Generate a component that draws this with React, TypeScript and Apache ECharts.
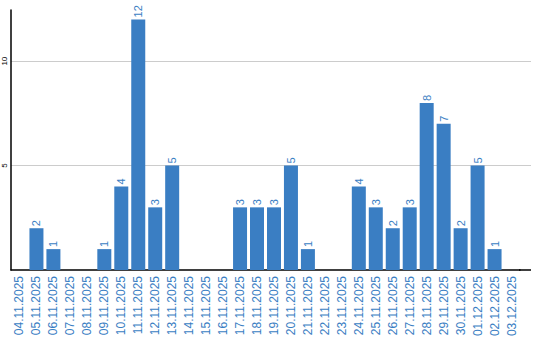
import React, { useEffect, useRef } from "react";
import * as echarts from "echarts";

const categories = [
  "04.11.2025", "05.11.2025", "06.11.2025", "07.11.2025", "08.11.2025",
  "09.11.2025", "10.11.2025", "11.11.2025", "12.11.2025", "13.11.2025",
  "14.11.2025", "15.11.2025", "16.11.2025", "17.11.2025", "18.11.2025",
  "19.11.2025", "20.11.2025", "21.11.2025", "22.11.2025", "23.11.2025",
  "24.11.2025", "25.11.2025", "26.11.2025", "27.11.2025", "28.11.2025",
  "29.11.2025", "30.11.2025", "01.12.2025", "02.12.2025", "03.12.2025",
];
const values = [
  0, 2, 1, 0, 0, 1, 4, 12, 3, 5,
  0, 0, 0, 3, 3, 3, 5, 1, 0, 0,
  4, 3, 2, 3, 8, 7, 2, 5, 1, 0,
];
const gridTicks = [5, 10];

const BLUE = "#3a7ec3";
const FONT = "Liberation Sans";

export default function App() {
  const ref = useRef<HTMLDivElement>(null);
  useEffect(() => {
    if (!ref.current) return;
    const chart = echarts.init(ref.current, null, { renderer: "svg" });
    chart.setOption({
      animation: false,
      grid: { left: 10, right: 20, top: 10, bottom: 70, containLabel: false },
      xAxis: {
        type: "category",
        data: categories,
        axisLine: { show: true, lineStyle: { color: "#000", width: 1.5 } },
        axisTick: { show: false },
        axisLabel: {
          rotate: 90,
          interval: 0,
          color: BLUE,
          fontFamily: FONT,
          fontSize: 12,
          margin: 6,
        },
      },
      yAxis: {
        type: "value",
        min: 0,
        max: 12.45,
        interval: 5,
        axisLine: { show: true, lineStyle: { color: "#000", width: 1.5 } },
        axisTick: { show: false },
        splitLine: { show: true, showMaxLine: false, showMinLine: false, lineStyle: { color: "#cccccc", width: 1 } },
        axisLabel: {
          rotate: 90,
          color: "#000",
          fontFamily: FONT,
          fontSize: 8,
          margin: 3,
          formatter: (v: number) => (v === 0 || v > 12 ? "" : String(v)),
        },
      },
      series: [
        {
          type: "bar",
          data: values,
          barWidth: 14,
          itemStyle: { color: BLUE },
          label: {
            show: true,
            position: "top",
            rotate: 90,
            align: "left",
            verticalAlign: "middle",
            distance: 2,
            color: BLUE,
            fontFamily: FONT,
            fontSize: 11,
            formatter: (p: any) => (p.value === 0 ? "" : String(p.value)),
          },
        },
      ],
    });
    const rect = (chart as any).getModel().getComponent("grid").coordinateSystem.getRect();
    const xEnd = rect.x + rect.width;
    const extra: any[] = gridTicks.map((t) => {
      const y = chart.convertToPixel({ yAxisIndex: 0 }, t) as number;
      const yy = Math.floor(y) + 0.5;
      return {
        type: "line",
        z: 0,
        shape: { x1: xEnd, y1: yy, x2: 531, y2: yy },
        style: { stroke: "#cccccc", lineWidth: 1 },
      };
    });
    const y0 = chart.convertToPixel({ yAxisIndex: 0 }, 0) as number;
    extra.push({
      type: "line",
      z: 10,
      shape: { x1: xEnd - 1, y1: y0, x2: 531, y2: y0 },
      style: { stroke: "#000", lineWidth: 1.5 },
    });
    chart.setOption({ graphic: extra });
    return () => chart.dispose();
  }, []);
  return <div ref={ref} style={{ width: 540, height: 340, position: "absolute", left: 0, top: 0 }} />;
}
